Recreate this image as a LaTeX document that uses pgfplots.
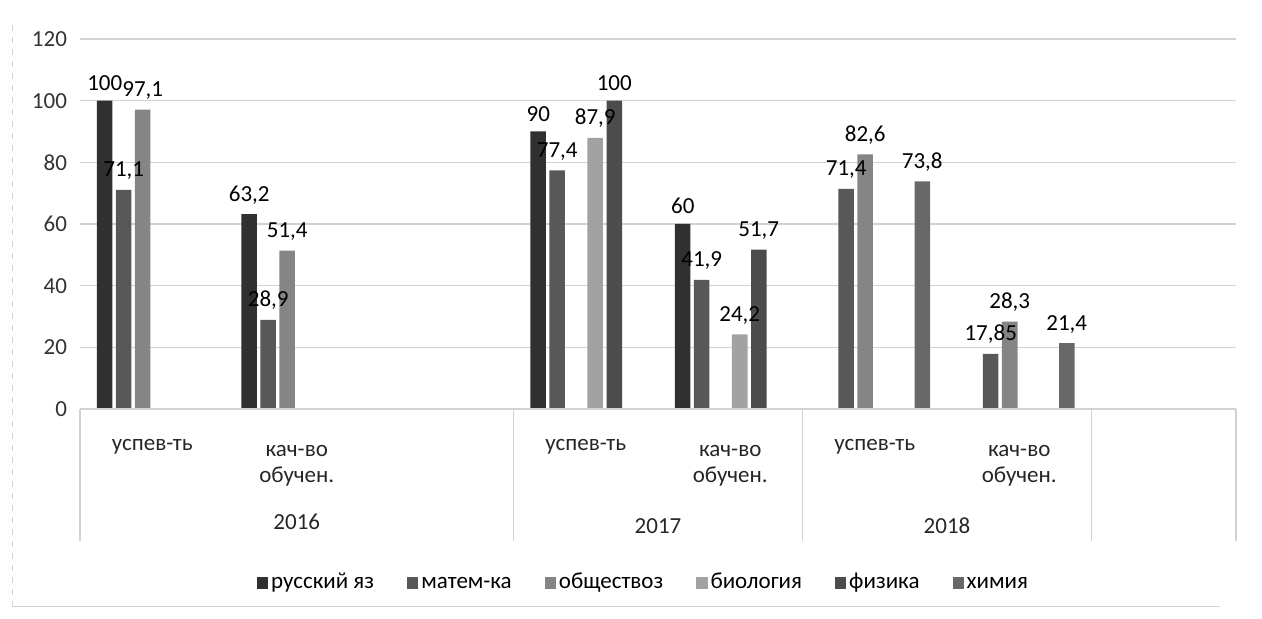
\documentclass[border=0pt]{standalone}
\usepackage{fontspec}
\setmainfont{Carlito}
\usepackage{pgfplots}
\pgfplotsset{compat=1.18}
\definecolor{cRus}{HTML}{303030}
\definecolor{cMat}{HTML}{585858}
\definecolor{cObs}{HTML}{858585}
\definecolor{cBio}{HTML}{A2A2A2}
\definecolor{cFiz}{HTML}{4C4C4C}
\definecolor{cHim}{HTML}{686868}
\definecolor{gridc}{HTML}{D2D2D2}
\begin{document}
\begin{tikzpicture}[font=\fontsize{11.5}{13.8}\selectfont]
\useasboundingbox (-40pt,-105pt) rectangle (591pt,204.5pt);
\begin{axis}[
  at={(0,0)}, anchor=south west,
  scale only axis, width=578pt, height=185pt,
  xmin=-0.5, xmax=7.5, ymin=0, ymax=120,
  ytick={0,20,...,120},
  xtick={0,1,3,4,5,6},
  xticklabels={},
  yticklabel style={text=black!80, xshift=-3pt},
  ymajorgrids, major grid style={draw=gridc, line width=0.7pt},
  axis line style={draw=none},
  major tick length=0pt,
  clip=false,
  ybar=1.75pt, bar width=7.75pt,
  /pgf/number format/assume math mode=true,
  /pgf/number format/use comma,
  /pgf/number format/1000 sep={},
  nodes near coords,
  every node near coord/.append style={text=black, anchor=south, yshift=1.5pt,
    font=\fontsize{11.5}{13.8}\selectfont, /pgf/number format/assume math mode=true},
  legend columns=6,
  legend style={at={(0.5,0)}, anchor=center, yshift=-87pt, xshift=-7pt, draw=none,
    font=\fontsize{11.5}{13.8}\selectfont,
    /tikz/every even column/.append style={column sep=15pt},
    nodes={inner sep=1.5pt, text height=0.72em, text depth=0.22em}},
  legend image code/.code={\fill[#1] (0pt,-2.8pt) rectangle (5.6pt,2.8pt);},
]
\addplot[fill=cRus, draw=none] coordinates {(0,100) (1,63.2) (3,90) (4,60)};
\addplot[fill=cMat, draw=none] coordinates {(0,71.1) (1,28.9) (3,77.4) (4,41.9) (5,71.4) (6,17.85)};
\addplot[fill=cObs, draw=none] coordinates {(0,97.1) (1,51.4) (5,82.6) (6,28.3)};
\addplot[fill=cBio, draw=none] coordinates {(3,87.9) (4,24.2)};
\addplot[fill=cFiz, draw=none] coordinates {(3,100) (4,51.7)};
\addplot[fill=cHim, draw=none] coordinates {(5,73.8) (6,21.4)};
\legend{русский яз,матем-ка,обществоз,биология,физика,химия}
\draw[gridc, line width=0.8pt] (axis cs:-0.5,0) -- (axis cs:7.5,0);
\draw[gridc, line width=0.8pt] (axis cs:-0.5,0) -- ++(0pt,-66pt);
\draw[gridc, line width=0.8pt] (axis cs:2.5,0) -- ++(0pt,-66pt);
\draw[gridc, line width=0.8pt] (axis cs:4.5,0) -- ++(0pt,-66pt);
\draw[gridc, line width=0.8pt] (axis cs:6.5,0) -- ++(0pt,-66pt);
\draw[gridc, line width=0.8pt] (axis cs:7.5,0) -- ++(0pt,-66pt);
% category labels
\node[anchor=base, text=black!85] at (axis cs:0,0) [yshift=-21pt] {успев-ть};
\node[anchor=base, text=black!85] at (axis cs:1,0) [yshift=-24pt] {кач-во};
\node[anchor=base, text=black!85] at (axis cs:1,0) [yshift=-37pt] {обучен.};
\node[anchor=base, text=black!85] at (axis cs:3,0) [yshift=-21pt] {успев-ть};
\node[anchor=base, text=black!85] at (axis cs:4,0) [yshift=-24pt] {кач-во};
\node[anchor=base, text=black!85] at (axis cs:4,0) [yshift=-37pt] {обучен.};
\node[anchor=base, text=black!85] at (axis cs:5,0) [yshift=-21pt] {успев-ть};
\node[anchor=base, text=black!85] at (axis cs:6,0) [yshift=-24pt] {кач-во};
\node[anchor=base, text=black!85] at (axis cs:6,0) [yshift=-37pt] {обучен.};
\node[text=black!85] at (axis cs:1,0) [yshift=-56.5pt] {2016};
\node[text=black!85] at (axis cs:3.5,0) [yshift=-58.5pt] {2017};
\node[text=black!85] at (axis cs:5.5,0) [yshift=-58.5pt] {2018};
\end{axis}
\draw[gridc, line width=0.5pt, dashed] (-34pt,-99pt) -- (-34pt,195pt);
\draw[gridc, line width=0.5pt] (-34pt,-99pt) -- (570pt,-99pt);
\end{tikzpicture}
\end{document}
